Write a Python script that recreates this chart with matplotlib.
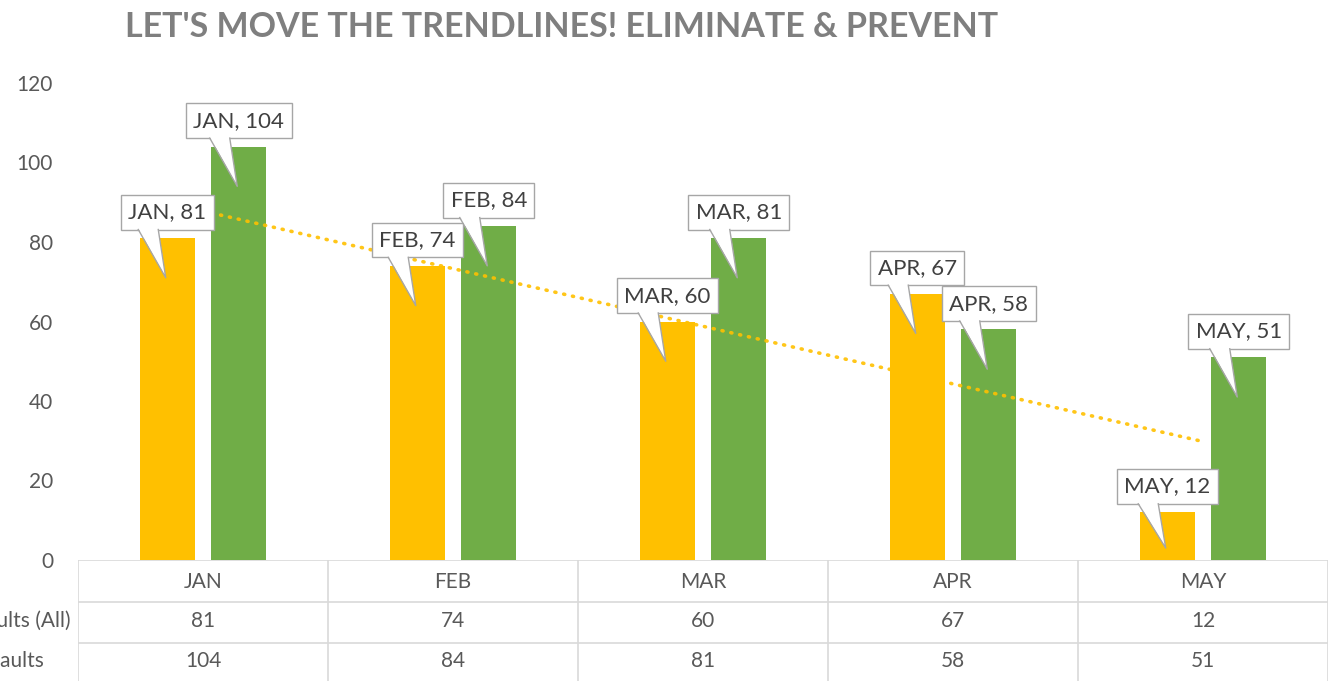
import numpy as np
import matplotlib
matplotlib.use('Agg')
import matplotlib.pyplot as plt
from matplotlib.patches import Polygon

## data
months = ['JAN', 'FEB', 'MAR', 'APR', 'MAY']
faults_all = [81, 74, 60, 67, 12]      # orange series
faults = [104, 84, 81, 58, 51]         # green series
row_names = ['Total Faults (All)', 'Total Faults']

plt.rcParams['font.family'] = ['Lato', 'DejaVu Sans']

orange = '#FFC000'
green = '#70AD47'
txt = '#595959'
grid = '#D9D9D9'
edge = '#A6A6A6'

W, H = 1334, 681
fig = plt.figure(figsize=(W / 100, H / 100), dpi=100)

# main plot area (pixel layout)
ax = fig.add_axes([78 / W, (H - 560) / H, 1250 / W, 477 / H])
x = np.arange(1, len(months) + 1)
bw = 0.22
off = 0.143
ax.bar(x - off, faults_all, bw, color=orange, zorder=2)
ax.bar(x + off, faults, bw, color=green, zorder=2)

# linear trendline of the orange series
p = np.polyfit(x, faults_all, 1)
ax.plot(x, np.polyval(p, x), color=orange, lw=2.6, ls=(0, (0.3, 2.2)),
        dash_capstyle='round', alpha=0.9, zorder=3)

ax.set_xlim(0.5, 5.5)
ax.set_ylim(0, 120)
ax.set_yticks(range(0, 121, 20))
ax.set_xticks([])
ax.tick_params(axis='y', length=0, pad=18, labelsize=15, labelcolor=txt)
for s in ax.spines.values():
    s.set_visible(False)

# callout boxes
labels = []
for i, m in enumerate(months):
    for xc, val in [(x[i] - off, faults_all[i]), (x[i] + off, faults[i])]:
        t = ax.text(xc, val + 6.5, '%s, %d' % (m, val), ha='center', va='center',
                    fontsize=16, color='#404040', zorder=5,
                    bbox=dict(boxstyle='square,pad=0.33', fc='white', ec=edge, lw=1))
        labels.append((t, xc, val))

# pointers under each box, joined to the box bottom
fig.canvas.draw()
inv = ax.transData.inverted()
for t, xc, val in labels:
    bb = t.get_bbox_patch().get_window_extent()
    yb = inv.transform((0, bb.y0))[1]
    tip = max(val - 10, 3)
    b1, b2 = xc - 0.116, xc - 0.036
    ax.add_patch(Polygon([(b1, yb + 0.35), (b2, yb + 0.35), (xc - 0.006, tip)],
                         closed=True, fc='white', ec='none', zorder=6))
    ax.plot([b1, xc - 0.006, b2], [yb, tip, yb], color=edge, lw=1, zorder=6)

# data table below the plot
tb = fig.add_axes([78 / W, 0, 1250 / W, (H - 560) / H])
tb.set_xlim(0.5, 5.5)
tb.set_ylim(0, 121)
tb.axis('off')
rows_y = [99, 60, 20]  # row centres
for yy in [121, 79, 38]:
    tb.axhline(yy, color=grid, lw=1.2)
for xx in np.arange(0.5, 5.6, 1):
    tb.axvline(xx, color=grid, lw=1.2)
for i, m in enumerate(months):
    tb.text(x[i], rows_y[0], m, ha='center', va='center', fontsize=15, color=txt)
    tb.text(x[i], rows_y[1], str(faults_all[i]), ha='center', va='center', fontsize=15, color=txt)
    tb.text(x[i], rows_y[2], str(faults[i]), ha='center', va='center', fontsize=15, color=txt)
fig.text(71 / W, (H - 621) / H, row_names[0], ha='right', va='center', fontsize=15, color=txt)
fig.text(44 / W, (H - 661) / H, row_names[1], ha='right', va='center', fontsize=15, color=txt)

fig.text(562 / W, (H - 27) / H, "LET'S MOVE THE TRENDLINES! ELIMINATE & PREVENT",
         ha='center', va='center', fontsize=24.5, fontweight='bold', color='#7F7F7F')

fig.savefig('out.png', dpi=100)
